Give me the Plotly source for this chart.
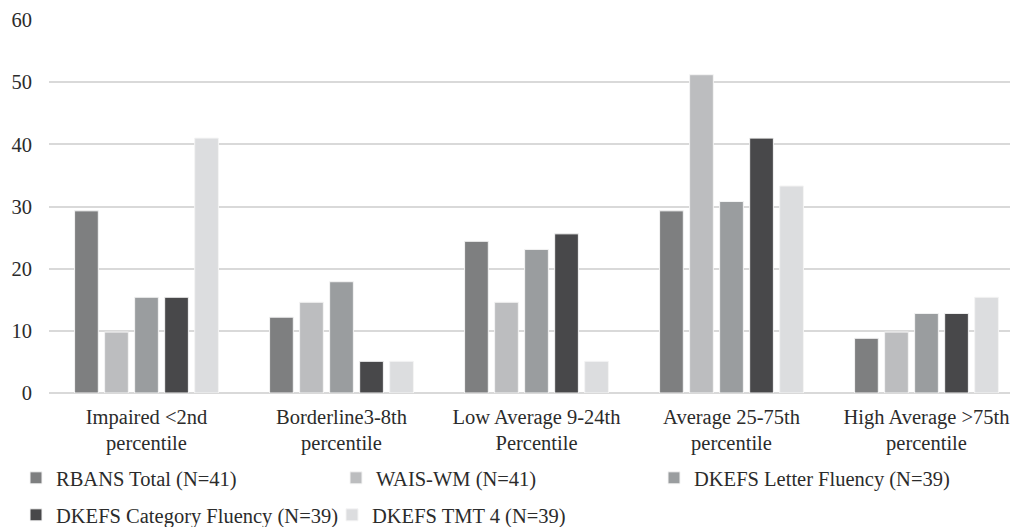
import plotly.graph_objects as go

categories = ["Impaired <2nd<br>percentile", "Borderline3-8th<br>percentile",
              "Low Average 9-24th<br>Percentile", "Average 25-75th<br>percentile",
              "High Average >75th<br>percentile"]

rbans_total = [29.3, 12.2, 24.4, 29.3, 8.8]
wais_wm = [9.8, 14.6, 14.6, 51.2, 9.8]
dkefs_letter = [15.4, 17.9, 23.1, 30.8, 12.8]
dkefs_category = [15.4, 5.1, 25.6, 41.0, 12.8]
dkefs_tmt4 = [41.0, 5.1, 5.1, 33.3, 15.4]

series_names = ["RBANS Total (N=41)", "WAIS-WM (N=41)", "DKEFS Letter Fluency (N=39)",
                "DKEFS Category Fluency (N=39)", "DKEFS TMT 4 (N=39)"]
series_values = [rbans_total, wais_wm, dkefs_letter, dkefs_category, dkefs_tmt4]
colors = ["#7e7f80", "#bcbdbf", "#9a9d9f", "#48484a", "#dcdddf"]
legend_ids = ["legend", "legend2", "legend3", "legend4", "legend5"]

FONT = "Liberation Serif"
FS = 20.5
TXT = "#2b2b2b"

fig = go.Figure()
for name, vals, col, lg in zip(series_names, series_values, colors, legend_ids):
    fig.add_trace(go.Bar(x=categories, y=vals, name=name, marker_color=col,
                         marker_line=dict(color="#f4f4f4", width=1), legend=lg,
                         showlegend=True))

# the page body adds an 8px offset, so the figure is drawn 8px smaller
W, H = 1010, 519
ML, MT, MB = 41, 12, 134
PW, PH = W - ML, H - MT - MB
# legend positions in figure pixels: left x, center y
leg_pos = [(8, 470), (328, 470), (646, 470), (8, 507), (324, 507)]
leg_common = dict(font=dict(family=FONT, size=FS, color=TXT), bgcolor="rgba(0,0,0,0)",
                  xanchor="left", yanchor="middle", orientation="h",
                  borderwidth=0, itemwidth=30, visible=True)
layout_legends = {}
for lg, (px, py) in zip(legend_ids, leg_pos):
    layout_legends[lg] = dict(x=(px - ML) / PW, y=(H - MB - py) / PH, **leg_common)

fig.update_layout(
    width=W, height=H, showlegend=True,
    margin=dict(l=ML, r=0, t=MT, b=MB, autoexpand=False),
    paper_bgcolor="white", plot_bgcolor="white",
    barmode="group", bargap=0.23, bargroupgap=0.21,
    font=dict(family=FONT, size=FS, color=TXT),
    xaxis=dict(range=[-0.5, -0.5 + PW / 195], showgrid=False, showline=False,
               ticks="", tickfont=dict(family=FONT, size=FS, color=TXT),
               ticklabelstandoff=9, tickangle=0, fixedrange=True),
    yaxis=dict(range=[0, 60], tickvals=[0, 10, 20, 30, 40, 50, 60],
               showgrid=True, gridcolor="#d9d9d9", gridwidth=1.5,
               zeroline=True, zerolinecolor="#d9d9d9", zerolinewidth=1.5,
               showline=False, ticks="", ticklabelstandoff=16,
               tickfont=dict(family=FONT, size=FS, color=TXT), fixedrange=True),
    **layout_legends,
)

fig.write_html("out.html")
